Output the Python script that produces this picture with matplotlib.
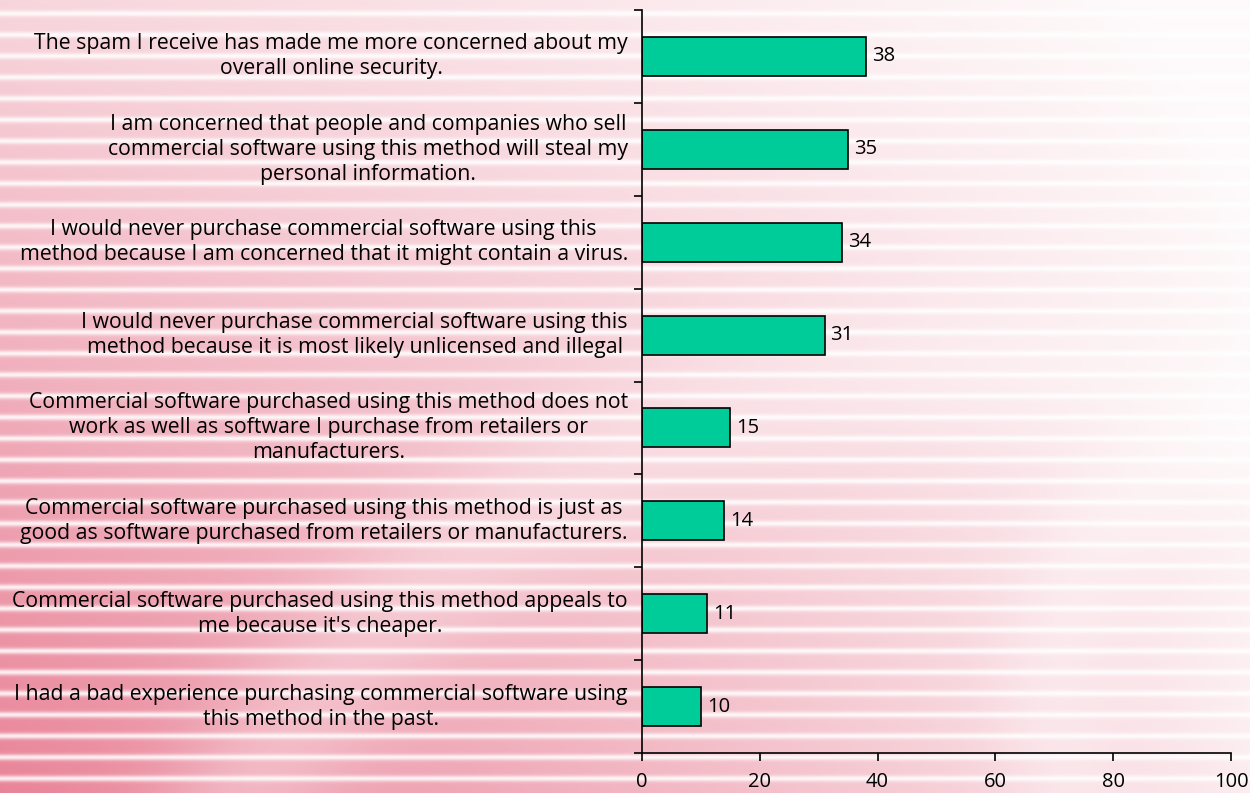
import numpy as np
import matplotlib
matplotlib.use('Agg')
import matplotlib.pyplot as plt

plt.rcParams['font.family'] = ['Open Sans', 'DejaVu Sans']

# survey statements, top to bottom
statements = [
    "The spam I receive has made me more concerned about my\noverall online security.",
    "I am concerned that people and companies who sell\ncommercial software using this method will steal my\npersonal information.",
    "I would never purchase commercial software using this\nmethod because I am concerned that it might contain a virus.",
    "I would never purchase commercial software using this\nmethod because it is most likely unlicensed and illegal",
    "Commercial software purchased using this method does not\nwork as well as software I purchase from retailers or\nmanufacturers.",
    "Commercial software purchased using this method is just as\ngood as software purchased from retailers or manufacturers.",
    "Commercial software purchased using this method appeals to\nme because it's cheaper.",
    "I had a bad experience purchasing commercial software using\nthis method in the past.",
]
percent = [38, 35, 34, 31, 15, 14, 11, 10]
x_ticks = [0, 20, 40, 60, 80, 100]

W, H = 1250, 793
fig = plt.figure(figsize=(W / 100, H / 100), dpi=100)

# pink striped backdrop, strongest at the lower left
yy, xx = np.mgrid[0:H, 0:W].astype(float)
strength = 0.7 * (1 - xx / W) ** 0.9 * (0.4 + 0.6 * yy / H) + 0.12 * (yy / H)
ring = np.hypot(xx - 1000, yy - 1250)
strength *= 1 - 0.3 * np.exp(-((ring - 880) / 80) ** 2)
ring2 = np.hypot(xx - 1350, yy - 700)
strength *= 1 - 0.3 * np.exp(-((ring2 - 300) / 60) ** 2)
strength = np.clip(strength, 0.03, 1)
phase = (yy - 13) % 21.25
stripe = np.exp(-(phase / 3.0) ** 2) + np.exp(-((phase - 21.25) / 3.0) ** 2)
strength *= 1 - 0.85 * np.clip(stripe, 0, 1)
pink = np.array([228, 105, 130]) / 255.0
bg = 1 - strength[..., None] * (1 - pink)
bg_ax = fig.add_axes([0, 0, 1, 1], zorder=0)
bg_ax.imshow(bg, aspect='auto', interpolation='bilinear')
bg_ax.axis('off')

ax = fig.add_axes([642 / W, 1 - 753 / H, (1231 - 642) / W, (753 - 10) / H], zorder=1)
ax.patch.set_alpha(0)

pos = np.arange(len(percent))
ax.barh(pos, percent, height=0.42, color='#00cc99', edgecolor='black', linewidth=1.2)
for p, v in zip(pos, percent):
    ax.text(v + 1, p, str(v), va='center', ha='left', fontsize=14.5)

ax.set_xlim(0, 100)
ax.set_ylim(len(percent) - 0.5, -0.5)
ax.set_xticks(x_ticks)
ax.set_xticklabels([str(t) for t in x_ticks], fontsize=14.5)
ax.set_yticks(np.arange(len(percent) + 1) - 0.5)
ax.set_yticklabels([])
ax.tick_params(axis='both', length=6, width=1.2, direction='out')
ax.tick_params(axis='x', pad=8)

for p, s in zip(pos, statements):
    ax.text(-2.4, p, s, ha='right', va='center', multialignment='center',
            fontsize=15.3, linespacing=1.25)

for side in ['top', 'right']:
    ax.spines[side].set_visible(False)
for side in ['left', 'bottom']:
    ax.spines[side].set_linewidth(1.2)

fig.savefig('out.png', dpi=100)
